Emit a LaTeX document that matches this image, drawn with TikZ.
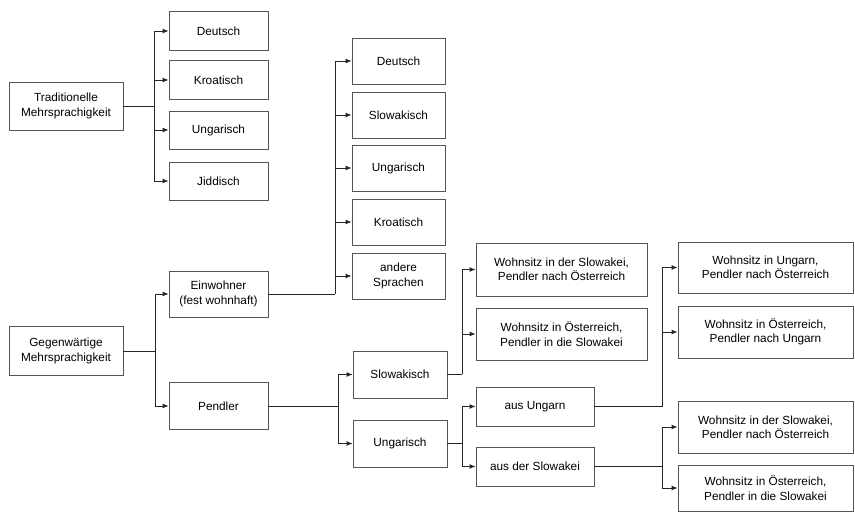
\documentclass[tikz,border=0pt]{standalone}
\usepackage{fontspec}
\setmainfont{Liberation Sans}
\usetikzlibrary{arrows.meta}
\definecolor{boxline}{RGB}{85,85,85}
\tikzset{
  box/.style={draw=boxline, line width=0.9pt, inner sep=0pt, align=center,
    font=\fontsize{11.8}{14.3}\selectfont},
  conn/.style={line width=0.9pt, draw=black!85},
  arr/.style={conn, -{Latex[length=6pt,width=5pt]}}
}
\begin{document}
\begin{tikzpicture}[x=1pt,y=-1pt]
\useasboundingbox (0,0) rectangle (855,513);
% left roots
\node[box, minimum width=114pt, minimum height=48pt] (trad) at (66,106) {Traditionelle\\Mehrsprachigkeit};
\node[box, minimum width=114pt, minimum height=49pt] (geg) at (66,351) {Gegenwärtige\\Mehrsprachigkeit};
% traditional languages
\node[box, minimum width=99pt, minimum height=39pt] (d1) at (218.5,31) {Deutsch};
\node[box, minimum width=99pt, minimum height=39pt] (k1) at (218.5,80) {Kroatisch};
\node[box, minimum width=99pt, minimum height=38pt] (u1) at (218.5,130) {Ungarisch};
\node[box, minimum width=99pt, minimum height=38pt] (j1) at (218.5,181) {Jiddisch};
% second level present
\node[box, minimum width=99pt, minimum height=46pt] (ein) at (218.5,294) {Einwohner\\(fest wohnhaft)};
\node[box, minimum width=99pt, minimum height=47pt] (pend) at (218.5,406) {Pendler};
% languages of residents
\node[box, minimum width=93pt, minimum height=46pt] (d2) at (398.5,61) {Deutsch};
\node[box, minimum width=93pt, minimum height=46pt] (s2) at (398.5,115) {Slowakisch};
\node[box, minimum width=93pt, minimum height=46pt] (u2) at (398.5,168) {Ungarisch};
\node[box, minimum width=93pt, minimum height=46pt] (k2) at (398.5,222) {Kroatisch};
\node[box, minimum width=93pt, minimum height=46pt] (a2) at (398.5,276) {andere\\Sprachen};
% commuters languages
\node[box, minimum width=94pt, minimum height=47pt] (slo3) at (400,374.5) {Slowakisch};
\node[box, minimum width=94pt, minimum height=47pt] (ung3) at (400,443.5) {Ungarisch};
% fourth level
\node[box, minimum width=171pt, minimum height=53pt] (wsa) at (561.5,269.5) {Wohnsitz in der Slowakei,\\Pendler nach Österreich};
\node[box, minimum width=171pt, minimum height=52pt] (woa) at (561.5,334) {Wohnsitz in Österreich,\\Pendler in die Slowakei};
\node[box, minimum width=118pt, minimum height=39pt] (ausU) at (535,406.5) {aus Ungarn};
\node[box, minimum width=118pt, minimum height=39pt] (ausS) at (535,466.5) {aus der Slowakei};
% fifth level
\node[box, minimum width=175pt, minimum height=51pt] (r1) at (765.5,267.5) {Wohnsitz in Ungarn,\\Pendler nach Österreich};
\node[box, minimum width=175pt, minimum height=52pt] (r2) at (765.5,332) {Wohnsitz in Österreich,\\Pendler nach Ungarn};
\node[box, minimum width=175pt, minimum height=52pt] (r3) at (765.5,427) {Wohnsitz in der Slowakei,\\Pendler nach Österreich};
\node[box, minimum width=175pt, minimum height=46pt] (r4) at (765.5,488) {Wohnsitz in Österreich,\\Pendler in die Slowakei};
% bus coordinates
\coordinate (b1) at (154,106);
\coordinate (b2) at (335,294);
\coordinate (b3) at (155,351);
\coordinate (b4) at (338,406);
\coordinate (b5) at (462,374.5);
\coordinate (b6) at (462,443.5);
\coordinate (b7) at (662,406.5);
\coordinate (b8) at (662,466.5);
% connectors
\draw[conn] (trad.east) -- (b1);
\foreach \t in {d1,k1,u1,j1} \draw[arr] (b1) |- (\t.west);
\draw[conn] (ein.east) -- (b2);
\foreach \t in {d2,s2,u2,k2,a2} \draw[arr] (b2) |- (\t.west);
\draw[conn] (geg.east) -- (b3);
\foreach \t in {ein,pend} \draw[arr] (b3) |- (\t.west);
\draw[conn] (pend.east) -- (b4);
\foreach \t in {slo3,ung3} \draw[arr] (b4) |- (\t.west);
\draw[conn] (slo3.east) -- (b5);
\foreach \t in {wsa,woa} \draw[arr] (b5) |- (\t.west);
\draw[conn] (ung3.east) -- (b6);
\foreach \t in {ausU,ausS} \draw[arr] (b6) |- (\t.west);
\draw[conn] (ausU.east) -- (b7);
\foreach \t in {r1,r2} \draw[arr] (b7) |- (\t.west);
\draw[conn] (ausS.east) -- (b8);
\foreach \t in {r3,r4} \draw[arr] (b8) |- (\t.west);
\end{tikzpicture}
\end{document}
